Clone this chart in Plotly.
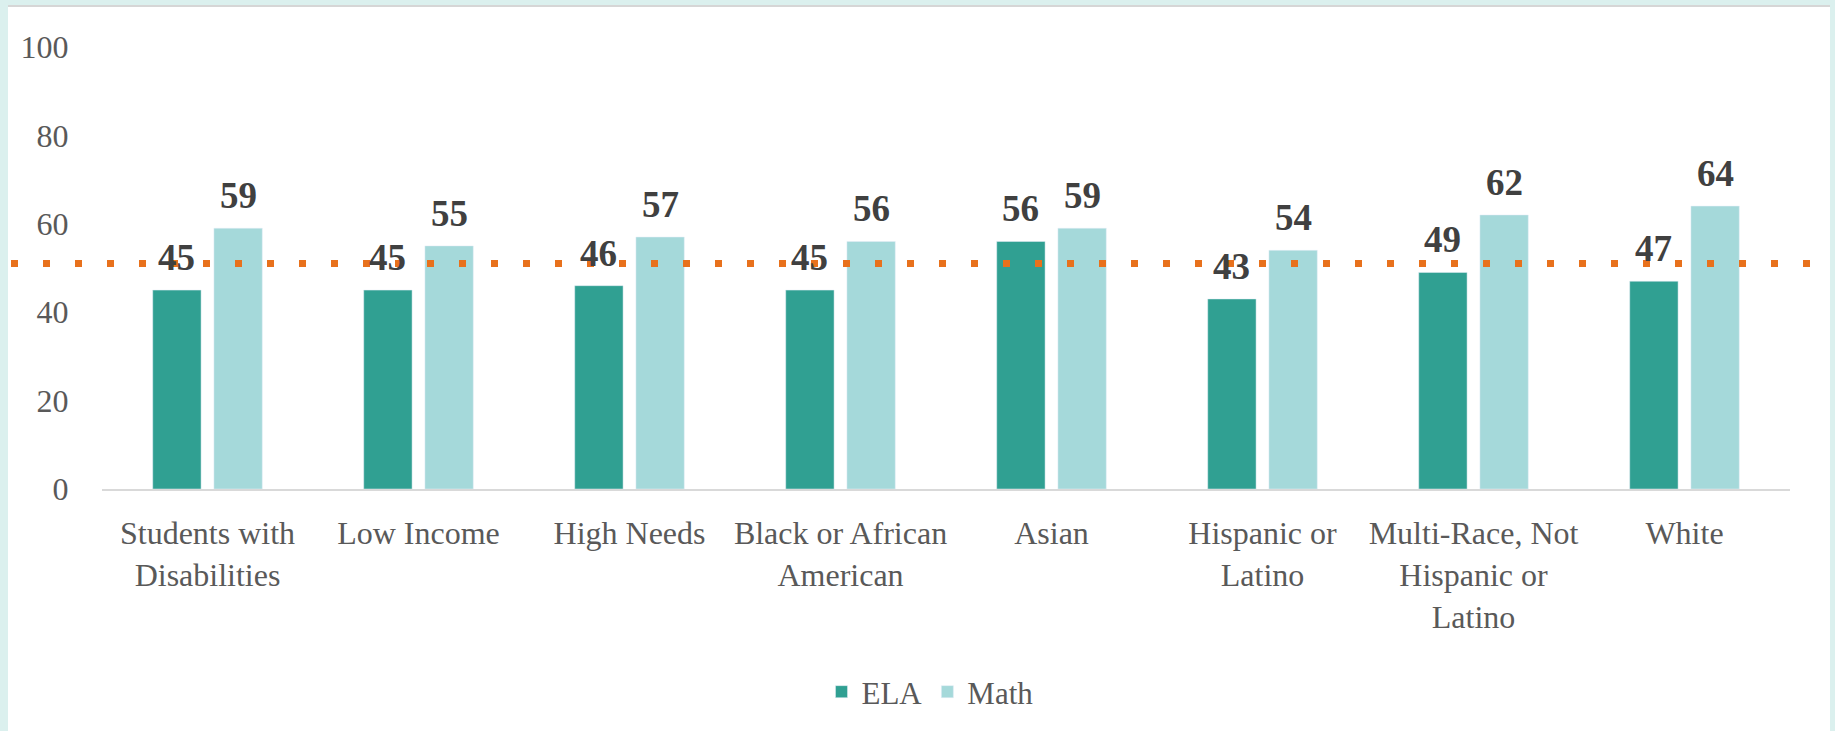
import plotly.graph_objects as go

categories = ["Students with<br>Disabilities", "Low Income", "High Needs",
              "Black or African<br>American", "Asian", "Hispanic or<br>Latino",
              "Multi-Race, Not<br>Hispanic or<br>Latino", "White"]
ela = [45, 45, 46, 45, 56, 43, 49, 47]
math = [59, 55, 57, 56, 59, 54, 62, 64]
benchmark = 51
y_ticks = [0, 20, 40, 60, 80, 100]

W, H = 1835, 731
ML, MR, MT, MB = 102, 45, 47, 242
pw = W - ML - MR
ph = H - MT - MB


def px_x(p):
    return (p - ML) / pw


def px_y(p):
    return (MT + ph - p) / ph


ELA_C = "#30a092"
MATH_C = "#a5d9da"
FONT = "Liberation Serif"

BARGAP = 0.42
GROUPGAP = 0.21

fig = go.Figure()
fig.add_trace(go.Bar(name="ELA", x=list(range(len(categories))), y=ela, marker_color=ELA_C))
fig.add_trace(go.Bar(name="Math", x=list(range(len(categories))), y=math, marker_color=MATH_C))

# data labels above each bar, placed at the bar centres of the grouped layout
slot = (1 - BARGAP) / 2
for series, sign in ((ela, -1), (math, 1)):
    for i, v in enumerate(series):
        fig.add_annotation(x=i + sign * slot / 2, y=v, xref="x", yref="y",
                           text=f"<b>{v}</b>", showarrow=False, yanchor="bottom",
                           yshift=10, font=dict(family=FONT, size=37, color="#404040"))

# benchmark dotted line across the whole chart width
fig.add_shape(type="line", xref="paper", yref="y",
              x0=px_x(11), x1=px_x(1812), y0=benchmark, y1=benchmark,
              line=dict(color="#e8711c", width=7, dash="7px,25px"), layer="above")

# frame: white card on a light teal background
fig.add_shape(type="rect", xref="paper", yref="paper", layer="below",
              x0=px_x(8), x1=px_x(1830), y0=px_y(H + 20), y1=px_y(7),
              fillcolor="white", line=dict(width=0))
fig.add_shape(type="line", xref="paper", yref="paper", layer="below",
              x0=px_x(8), x1=px_x(1830), y0=px_y(6), y1=px_y(6),
              line=dict(color="#d6d6d6", width=2))

fig.update_layout(
    width=W, height=H,
    margin=dict(l=ML, r=MR, t=MT, b=MB),
    paper_bgcolor="#dbf0ee", plot_bgcolor="rgba(0,0,0,0)",
    barmode="group", bargap=BARGAP, bargroupgap=GROUPGAP,
    font=dict(family=FONT, color="#595959"),
    showlegend=True,
    legend=dict(orientation="h", x=px_x(930), xanchor="center",
                y=px_y(692), yanchor="middle",
                font=dict(family=FONT, size=31, color="#595959"),
                itemwidth=30, traceorder="normal", bgcolor="rgba(0,0,0,0)"),
    xaxis=dict(tickmode="array", tickvals=list(range(len(categories))), ticktext=categories,
               range=[-0.5, len(categories) - 0.5],
               showline=True, linecolor="#d9d9d9", linewidth=2, showgrid=False,
               zeroline=False, ticks="outside", ticklen=15, tickcolor="rgba(0,0,0,0)",
               tickfont=dict(family=FONT, size=32, color="#595959")),
    yaxis=dict(range=[0, 100], tickvals=y_ticks, showgrid=False, zeroline=False,
               showline=False, ticks="outside", ticklen=26, tickcolor="rgba(0,0,0,0)",
               tickfont=dict(family=FONT, size=32, color="#595959")),
)

fig.write_html("out.html")
